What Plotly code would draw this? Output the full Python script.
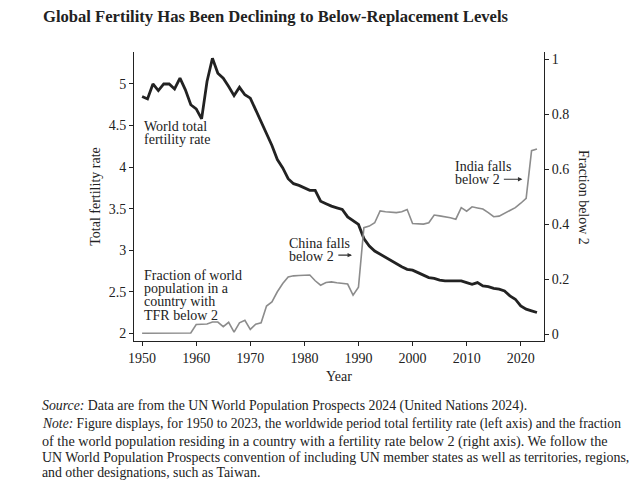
import plotly.graph_objects as go

# Years 1950-2023
years = list(range(1950, 2024))

# World total fertility rate (left axis)
tfr = [
    4.85, 4.82, 5.00, 4.92, 5.00, 5.00, 4.94, 5.07, 4.93, 4.75,
    4.70, 4.58, 5.03, 5.31, 5.13, 5.07, 4.97, 4.86, 4.96, 4.87,
    4.83, 4.69, 4.55, 4.41, 4.26, 4.09, 3.99, 3.86, 3.80, 3.78,
    3.75, 3.72, 3.72, 3.59, 3.56, 3.53, 3.51, 3.49, 3.40, 3.36,
    3.31, 3.14, 3.05, 2.99, 2.95, 2.91, 2.87, 2.83, 2.80, 2.77,
    2.76, 2.73, 2.70, 2.67, 2.66, 2.64, 2.63, 2.63, 2.63, 2.63,
    2.61, 2.59, 2.61, 2.57, 2.56, 2.54, 2.53, 2.51, 2.45, 2.41,
    2.33, 2.29, 2.27, 2.25,
]

# Fraction of world population in a country with TFR below 2 (right axis)
frac_below_2 = [
    0.003, 0.003, 0.003, 0.003, 0.003, 0.003, 0.003, 0.003, 0.003, 0.004,
    0.035, 0.037, 0.037, 0.044, 0.044, 0.027, 0.043, 0.007, 0.041, 0.050,
    0.017, 0.036, 0.041, 0.102, 0.117, 0.154, 0.184, 0.208, 0.212, 0.213,
    0.213, 0.215, 0.194, 0.178, 0.188, 0.190, 0.187, 0.184, 0.182, 0.142,
    0.171, 0.387, 0.393, 0.405, 0.448, 0.445, 0.443, 0.442, 0.445, 0.453,
    0.402, 0.400, 0.400, 0.405, 0.433, 0.430, 0.427, 0.423, 0.418, 0.460,
    0.447, 0.463, 0.459, 0.455, 0.442, 0.427, 0.429, 0.439, 0.448, 0.460,
    0.476, 0.494, 0.667, 0.673,
]

x_ticks = [1950, 1960, 1970, 1980, 1990, 2000, 2010, 2020]
left_ticks = [2, 2.5, 3, 3.5, 4, 4.5, 5]
right_ticks = [0, 0.2, 0.4, 0.6, 0.8, 1]

SERIF = "Liberation Serif"
INK = "#222222"

# plot area in page pixels (page has an 8px body margin)
PL, PR, PT, PB = 134, 544, 52, 341


def px(x):
    return (x - PL) / (PR - PL)


def py(y):
    return (PB - y) / (PB - PT)


fig = go.Figure()

fig.add_trace(go.Scatter(
    x=years, y=frac_below_2, yaxis="y2", mode="lines",
    line=dict(color="#8c8c8c", width=1.6), hoverinfo="skip",
))
fig.add_trace(go.Scatter(
    x=years, y=tfr, mode="lines",
    line=dict(color=INK, width=2.8), hoverinfo="skip",
))

axis_common = dict(
    showline=True, linecolor=INK, linewidth=1, ticks="outside",
    ticklen=4, tickcolor=INK, showgrid=False, zeroline=False,
    tickfont=dict(family=SERIF, size=14, color=INK),
)

fig.update_layout(
    width=644, height=494,
    margin=dict(l=PL - 8, r=644 - PR + 8, t=PT - 8, b=494 - PB + 8),
    paper_bgcolor="white", plot_bgcolor="white",
    showlegend=False,
    font=dict(family=SERIF, color=INK),
    xaxis=dict(
        range=[1948.5, 2024.3], tickvals=x_ticks, **axis_common,
        title=dict(text="Year", font=dict(family=SERIF, size=14, color=INK), standoff=6),
    ),
    yaxis=dict(
        range=[1.907, 5.385], tickvals=left_ticks,
        ticktext=[f"{v:g}" for v in left_ticks], **axis_common,
        title=dict(text="Total fertility rate", font=dict(family=SERIF, size=14, color=INK), standoff=4),
    ),
    yaxis2=dict(
        range=[-0.025, 1.026], tickvals=right_ticks,
        ticktext=[f"{v:g}" for v in right_ticks],
        overlaying="y", side="right", **axis_common,
    ),
)


def text_at(text, x, y, size=14, anchor="left", angle=0):
    fig.add_annotation(
        x=px(x), y=py(y), xref="paper", yref="paper", text=text,
        showarrow=False, xanchor=anchor, yanchor="middle", textangle=angle,
        font=dict(family=SERIF, size=size, color=INK),
    )


def arrow(x0, x1, y):
    fig.add_annotation(
        x=x1, y=y, ax=x0, ay=y, xref="x", yref="y", axref="x", ayref="y",
        text="", showarrow=True, arrowhead=2, arrowsize=0.8,
        arrowwidth=1.1, arrowcolor="#333333",
    )


for i, line in enumerate(["World total", "fertility rate"]):
    text_at(line, 142, 126 + 13.4 * i)
for i, line in enumerate(["Fraction of world", "population in a", "country with", "TFR below 2"]):
    text_at(line, 142, 275 + 13.4 * i)
for i, line in enumerate(["China falls", "below 2"]):
    text_at(line, 287, 243 + 13.4 * i)
arrow(1986.0, 1988.8, 2.94)
for i, line in enumerate(["India falls", "below 2"]):
    text_at(line, 453, 166 + 13.4 * i)
arrow(2016.6, 2020.3, 3.853)

# right axis title reads top-to-bottom
text_at("Fraction below 2", 584, 197, anchor="center", angle=90)

# title
text_at("<b>Global Fertility Has Been Declining to Below-Replacement Levels</b>", 41, 16, size=16.6)

notes = [
    "<i>Source:</i> Data are from the UN World Population Prospects 2024 (United Nations 2024).",
    "<i>Note:</i> Figure displays, for 1950 to 2023, the worldwide period total fertility rate (left axis) and the fraction",
    "of the world population residing in a country with a fertility rate below 2 (right axis). We follow the",
    "UN World Population Prospects convention of including UN member states as well as territories, regions,",
    "and other designations, such as Taiwan.",
]
note_y = [406, 424, 441, 457, 473]
note_size = [13.8, 13.6, 14.2, 13.9, 13.8]
for line, y, s in zip(notes, note_y, note_size):
    text_at(line, 40, y, size=s)

fig.write_html("out.html")
